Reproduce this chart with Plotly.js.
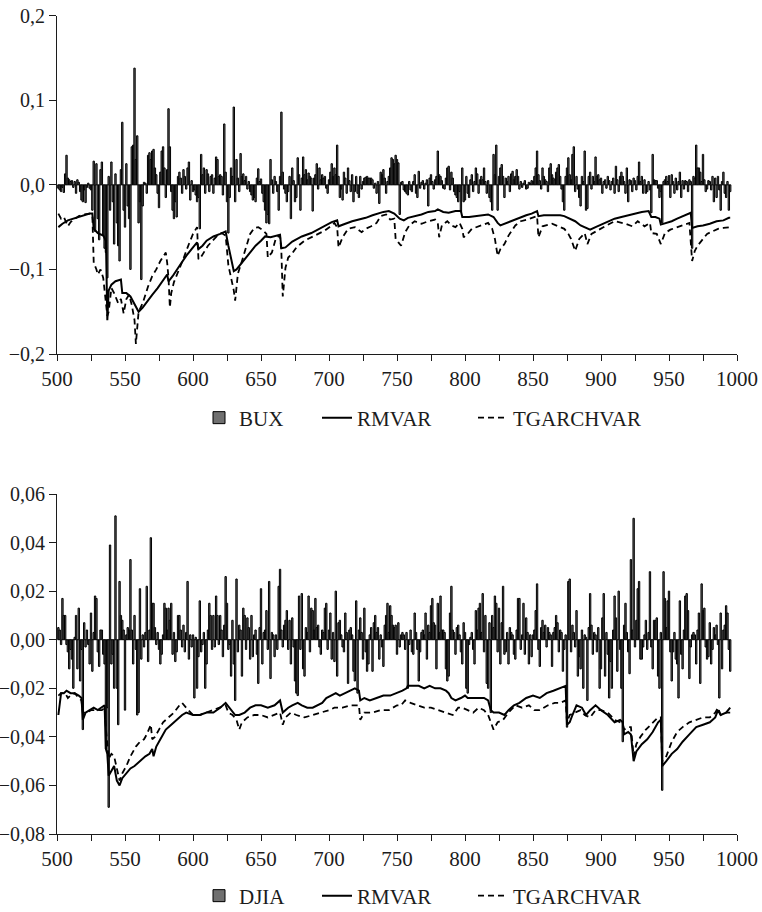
<!DOCTYPE html>
<html>
<head>
<meta charset="utf-8">
<script src="https://cdn.plot.ly/plotly-3.0.1.min.js"></script>
<style>html,body{margin:0;padding:0;background:#fff;}#chart{width:762px;height:912px;}</style>
</head>
<body>
<div id="chart"></div>
<script>
// ---------- DATA ----------
const firstDay = 501;
const xTickVals = [500,525,550,575,600,625,650,675,700,725,750,775,800,825,850,875,900,925,950,975,1000];
const xTickText = ['500','','550','','600','','650','','700','','750','','800','','850','','900','','950','','1000'];

// BUX daily returns, days 501..995
const buxReturns = [
 -0.004,-0.006,-0.008,-0.003,-0.009,0.013,0.035,0.008,0.006,0.004,
 0.005,-0.003,0.004,-0.010,0.006,0.003,-0.008,-0.018,-0.020,-0.006,
 -0.021,-0.003,0.002,-0.004,-0.006,-0.030,0.028,-0.055,0.025,-0.040,
 -0.065,0.018,0.027,-0.060,-0.075,-0.080,-0.110,0.010,-0.030,0.027,
 -0.020,-0.070,0.013,-0.045,-0.072,-0.090,0.018,0.074,-0.030,-0.050,
 0.025,-0.025,-0.040,-0.100,0.045,0.047,0.138,0.030,0.058,-0.045,
 -0.020,-0.112,-0.025,0.003,0.002,-0.010,0.035,0.038,0.030,0.040,
 0.042,0.020,0.012,-0.010,-0.027,0.015,0.040,0.045,0.020,-0.015,
 0.018,0.090,0.045,-0.008,-0.030,-0.040,-0.020,-0.038,0.010,0.015,
 0.008,-0.010,0.018,0.010,-0.005,0.020,0.027,-0.018,0.005,-0.008,
 -0.006,-0.012,-0.020,-0.015,-0.052,0.036,0.012,0.020,-0.010,0.018,
 0.013,-0.008,0.010,0.012,-0.010,0.008,0.033,0.030,0.010,0.012,
 0.010,-0.012,0.072,0.015,-0.020,-0.057,-0.015,0.020,0.010,0.092,
 -0.020,0.030,0.008,-0.008,0.037,0.010,0.013,0.005,0.010,-0.005,
 0.004,-0.008,-0.012,-0.018,-0.015,-0.020,0.008,0.019,0.004,0.007,
 -0.010,-0.020,-0.030,-0.045,-0.035,-0.046,0.030,0.006,-0.010,0.010,
 0.004,-0.008,-0.030,0.010,0.086,0.015,-0.005,-0.010,-0.020,-0.008,
 0.010,-0.040,0.020,0.005,-0.020,-0.015,0.032,0.012,-0.030,0.008,
 0.033,0.012,0.018,0.006,0.014,0.010,0.008,-0.031,0.008,0.012,
 0.025,-0.005,0.020,0.006,0.012,0.008,0.010,-0.004,-0.010,0.006,
 0.015,0.025,0.010,0.020,0.012,0.047,0.010,-0.015,-0.005,-0.018,
 0.015,0.008,-0.010,0.020,0.005,-0.008,0.012,-0.020,-0.008,0.010,
 -0.010,-0.015,0.010,-0.005,0.004,0.008,0.009,0.010,0.008,0.008,
 0.008,0.006,-0.004,0.002,-0.010,0.004,-0.022,0.015,0.012,0.018,
 0.008,-0.010,0.004,0.010,0.020,0.032,0.030,0.025,0.035,0.030,
 0.026,-0.035,0.003,0.004,-0.006,-0.008,-0.010,-0.012,0.004,-0.006,
 -0.008,0.004,0.012,-0.010,-0.015,0.016,-0.004,0.003,0.005,-0.005,
 0.002,0.006,-0.025,0.008,0.012,0.004,-0.005,0.006,0.010,0.040,
 0.012,0.010,0.005,-0.004,-0.005,0.008,0.020,0.022,-0.006,0.015,
 0.008,-0.008,-0.012,-0.015,-0.020,-0.008,-0.032,0.020,-0.020,-0.018,
 0.010,-0.010,-0.015,0.006,0.012,-0.008,0.004,0.020,0.013,-0.010,
 0.006,0.010,0.006,0.020,0.004,-0.010,0.005,-0.015,-0.020,-0.030,
 0.036,0.012,0.047,-0.030,0.010,0.020,0.024,0.010,-0.015,0.008,
 0.004,0.010,-0.008,0.013,0.016,0.006,0.010,0.018,0.010,-0.005,
 0.004,-0.003,0.002,0.005,-0.005,-0.004,0.003,0.002,0.005,0.004,
 0.010,0.020,0.040,0.012,0.005,-0.005,0.020,0.010,0.006,0.004,
 -0.008,0.020,0.025,0.012,0.008,0.006,0.015,0.020,0.024,0.010,
 -0.005,-0.020,-0.030,0.010,0.020,0.032,0.012,0.006,0.036,0.045,
 -0.008,0.010,-0.005,-0.015,-0.025,0.010,0.004,0.040,-0.030,-0.028,
 0.010,0.015,-0.005,0.010,0.004,0.033,0.010,0.012,0.006,0.008,
 -0.010,0.004,0.006,-0.004,0.010,0.005,-0.006,0.004,0.008,-0.010,
 0.022,0.006,-0.008,0.010,0.015,0.010,0.004,-0.010,0.020,-0.020,
 0.006,0.005,-0.008,0.008,0.005,-0.006,0.010,0.027,0.004,0.010,
 -0.010,0.006,-0.010,-0.008,0.004,-0.006,-0.033,0.036,0.006,0.005,
 0.005,-0.004,-0.015,-0.008,-0.045,0.004,0.006,0.010,0.004,0.011,
 -0.015,0.012,0.004,-0.010,0.008,-0.006,0.004,0.015,-0.015,0.005,
 -0.005,0.005,0.004,-0.008,0.006,0.004,-0.075,0.010,0.008,0.047,
 0.020,0.020,0.015,0.004,0.036,0.006,-0.008,-0.005,0.005,0.004,
 -0.006,0.010,-0.020,0.008,-0.015,0.010,-0.006,-0.030,0.004,0.015,
 -0.010,-0.015,0.004,-0.030,-0.008
];

// BUX RiskMetrics VaR (solid)
const buxRmDays = [501,504,508,512,516,520,524,526,527,530,534,536,537,538,540,543,546,547,548,551,554,557,560,563,566,570,574,578,581,582,585,590,595,600,603,604,607,610,615,620,624,626,627,630,632,635,638,642,646,650,653,657,660,664,665,668,673,680,687,695,702,706,707,712,717,722,727,732,736,740,744,748,752,755,758,763,768,773,778,780,784,788,793,797,798,803,808,813,817,821,824,826,829,833,837,841,845,849,853,854,858,864,870,873,877,881,885,889,892,896,900,905,910,915,920,925,930,935,937,940,943,944,948,952,956,960,963,966,967,971,975,980,985,990,994,995];
const buxRmVar = [-0.050,-0.046,-0.042,-0.040,-0.038,-0.036,-0.034,-0.034,-0.052,-0.057,-0.060,-0.066,-0.160,-0.125,-0.118,-0.114,-0.113,-0.112,-0.128,-0.128,-0.132,-0.142,-0.150,-0.145,-0.138,-0.130,-0.122,-0.112,-0.106,-0.114,-0.108,-0.096,-0.084,-0.074,-0.068,-0.076,-0.072,-0.066,-0.061,-0.058,-0.055,-0.072,-0.080,-0.102,-0.100,-0.094,-0.088,-0.080,-0.072,-0.066,-0.061,-0.062,-0.061,-0.059,-0.075,-0.074,-0.067,-0.061,-0.057,-0.050,-0.044,-0.042,-0.049,-0.046,-0.043,-0.041,-0.039,-0.036,-0.034,-0.032,-0.031,-0.034,-0.040,-0.042,-0.039,-0.037,-0.035,-0.032,-0.031,-0.029,-0.032,-0.033,-0.031,-0.031,-0.038,-0.038,-0.037,-0.036,-0.035,-0.038,-0.045,-0.048,-0.046,-0.044,-0.041,-0.038,-0.036,-0.034,-0.031,-0.037,-0.036,-0.036,-0.036,-0.037,-0.040,-0.043,-0.048,-0.051,-0.053,-0.050,-0.047,-0.043,-0.040,-0.038,-0.036,-0.034,-0.032,-0.031,-0.038,-0.038,-0.040,-0.047,-0.045,-0.043,-0.040,-0.037,-0.035,-0.033,-0.051,-0.049,-0.048,-0.046,-0.043,-0.042,-0.039,-0.039];

// BUX TGARCH VaR (dashed)
const buxTgDays = [501,503,505,508,510,513,516,520,524,526,527,529,530,532,534,536,537,538,540,542,545,547,549,551,553,555,557,558,559,560,563,565,567,570,573,576,578,580,581,582,583,584,586,590,593,597,600,603,604,606,608,611,615,618,621,624,626,628,630,631,633,636,639,642,645,648,651,654,655,658,661,664,665,666,668,670,673,676,682,690,697,702,704,706,707,710,714,719,724,727,731,735,738,742,745,748,749,751,753,756,759,763,768,773,778,780,781,783,787,790,793,796,798,799,802,805,812,817,820,822,824,826,829,832,837,841,846,850,853,854,857,864,868,873,876,878,881,884,888,890,893,898,903,910,918,923,927,932,936,937,941,944,947,951,956,961,965,967,969,971,974,978,982,986,990,995];
const buxTgVar = [-0.034,-0.040,-0.038,-0.049,-0.044,-0.040,-0.037,-0.035,-0.034,-0.036,-0.092,-0.100,-0.106,-0.100,-0.110,-0.140,-0.155,-0.150,-0.122,-0.128,-0.140,-0.135,-0.152,-0.135,-0.130,-0.142,-0.160,-0.188,-0.165,-0.150,-0.140,-0.130,-0.120,-0.108,-0.100,-0.090,-0.085,-0.080,-0.092,-0.110,-0.145,-0.128,-0.115,-0.100,-0.087,-0.070,-0.058,-0.050,-0.088,-0.085,-0.080,-0.072,-0.065,-0.060,-0.057,-0.060,-0.095,-0.110,-0.125,-0.137,-0.105,-0.090,-0.075,-0.058,-0.051,-0.050,-0.053,-0.058,-0.086,-0.080,-0.063,-0.060,-0.080,-0.132,-0.098,-0.086,-0.081,-0.074,-0.066,-0.060,-0.054,-0.048,-0.045,-0.050,-0.074,-0.062,-0.052,-0.050,-0.056,-0.052,-0.049,-0.045,-0.037,-0.035,-0.041,-0.040,-0.064,-0.068,-0.072,-0.056,-0.048,-0.043,-0.046,-0.043,-0.041,-0.045,-0.062,-0.048,-0.043,-0.048,-0.050,-0.045,-0.052,-0.062,-0.058,-0.052,-0.048,-0.045,-0.052,-0.064,-0.084,-0.076,-0.070,-0.060,-0.048,-0.043,-0.041,-0.039,-0.037,-0.062,-0.049,-0.046,-0.049,-0.052,-0.058,-0.064,-0.078,-0.064,-0.057,-0.070,-0.058,-0.053,-0.049,-0.043,-0.046,-0.049,-0.043,-0.049,-0.045,-0.057,-0.058,-0.070,-0.057,-0.053,-0.050,-0.047,-0.045,-0.090,-0.078,-0.072,-0.066,-0.058,-0.055,-0.052,-0.051,-0.050];

// DJIA daily returns, days 501..995
const djiaReturns = [
 0.005,0.004,-0.002,0.017,0.010,0.010,-0.002,-0.005,-0.012,-0.004,
 -0.008,-0.020,0.001,0.010,-0.012,0.013,-0.017,-0.004,-0.037,0.007,
 -0.003,0.004,-0.002,-0.010,0.011,-0.013,0.003,0.018,0.017,-0.005,
 -0.011,0.004,0.004,-0.006,-0.010,-0.045,-0.028,-0.069,0.039,-0.010,
 -0.006,-0.020,0.051,-0.020,-0.035,0.024,0.010,0.008,0.004,-0.029,
 0.002,0.005,0.004,0.033,0.004,-0.010,0.010,-0.004,-0.031,-0.030,
 0.021,-0.008,0.002,-0.003,0.003,0.022,-0.009,0.004,0.042,0.015,
 0.015,0.005,-0.002,0.003,-0.004,-0.010,-0.006,0.002,0.015,0.013,
 0.004,0.013,0.008,0.015,-0.006,0.003,-0.009,-0.005,0.010,0.010,
 0.004,-0.003,0.006,-0.005,0.003,0.024,-0.008,0.002,-0.003,0.002,
 -0.024,0.001,-0.020,-0.007,0.016,-0.005,-0.002,0.003,-0.020,-0.010,
 0.004,0.015,0.010,-0.004,0.010,-0.003,0.018,0.010,-0.002,0.010,
 0.004,-0.007,0.006,0.026,0.015,-0.004,-0.002,-0.015,0.008,-0.010,
 -0.025,0.025,-0.005,0.006,0.004,-0.015,0.013,0.010,-0.004,0.009,
 0.005,-0.008,0.010,-0.007,0.002,0.004,-0.006,-0.018,0.005,0.021,
 -0.010,0.003,0.004,0.012,-0.004,0.024,-0.016,0.003,0.002,-0.007,
 0.002,-0.004,0.022,0.029,0.004,-0.003,0.006,0.008,0.012,-0.004,
 0.008,-0.010,0.009,-0.003,-0.017,-0.022,-0.023,0.018,-0.004,0.019,
 -0.012,-0.015,0.005,0.003,0.018,-0.005,0.013,0.012,0.004,0.017,
 0.005,0.006,-0.003,-0.006,0.004,0.003,0.013,0.015,-0.004,0.004,
 0.011,-0.008,0.003,-0.009,0.020,-0.015,0.007,0.008,0.002,-0.003,
 -0.005,0.011,0.003,-0.018,0.004,0.005,0.002,-0.013,-0.017,0.016,
 -0.022,0.004,0.009,0.003,-0.008,0.013,-0.005,-0.013,-0.010,0.002,
 0.005,-0.013,0.007,0.010,0.003,0.005,-0.008,0.002,-0.003,-0.011,
 0.006,0.010,0.015,0.003,0.014,0.010,0.006,0.005,0.006,-0.006,
 0.007,-0.003,0.002,0.003,0.002,-0.004,0.003,-0.020,-0.002,0.004,
 -0.005,-0.006,0.011,0.003,-0.004,-0.017,-0.005,0.003,0.004,0.002,
 0.011,-0.008,0.006,0.003,0.014,0.017,0.007,0.006,-0.012,0.015,
 0.003,0.018,0.004,0.004,0.003,-0.012,-0.017,-0.015,0.011,0.022,
 0.004,0.003,-0.006,0.005,0.006,0.002,-0.005,-0.010,0.007,0.003,
 -0.020,-0.022,-0.002,0.001,0.003,-0.004,-0.010,0.012,0.004,0.013,
 0.015,0.003,0.019,-0.005,0.010,-0.018,-0.020,0.007,-0.030,0.010,
 0.005,0.018,0.015,-0.005,0.013,-0.010,0.007,0.022,-0.006,-0.005,
 0.003,-0.010,0.005,0.003,0.002,-0.006,-0.008,0.004,0.017,0.017,
 -0.004,0.002,0.015,-0.006,0.009,0.003,-0.010,0.002,-0.007,0.002,
 0.004,0.012,0.023,-0.004,-0.011,0.005,0.008,0.003,0.006,-0.003,
 0.005,0.003,0.002,-0.011,0.003,0.005,0.010,0.007,-0.005,0.004,
 0.003,-0.013,-0.004,0.002,-0.036,0.024,0.025,-0.005,0.006,0.003,
 -0.003,0.012,-0.015,-0.007,-0.012,0.004,-0.020,0.002,0.001,-0.025,
 0.005,0.019,0.006,-0.006,0.003,0.002,-0.005,0.005,-0.020,-0.012,
 0.009,0.019,-0.015,0.003,-0.006,-0.024,-0.009,-0.020,0.004,0.018,
 0.009,-0.013,0.020,-0.004,-0.020,-0.042,0.006,0.015,0.003,-0.005,
 -0.014,0.033,0.004,0.050,-0.003,0.008,0.021,0.024,-0.008,-0.008,
 -0.003,0.002,0.008,-0.004,0.003,0.028,-0.003,-0.012,0.008,0.008,
 0.009,-0.015,-0.020,0.003,-0.062,0.028,0.017,0.005,0.016,0.020,
 -0.005,-0.017,-0.005,0.003,-0.008,-0.010,-0.024,0.016,-0.006,-0.012,
 0.004,0.018,0.019,0.012,-0.016,-0.003,0.002,0.003,0.002,-0.010,
 0.004,0.011,-0.018,0.023,0.012,0.013,-0.003,-0.008,-0.007,0.007,
 -0.010,-0.004,0.005,0.002,0.006,-0.002,-0.024,0.011,-0.012,0.004,
 0.006,0.014,0.011,-0.004,-0.013
];

// DJIA RiskMetrics VaR (solid)
const djiaRmDays = [501,502,503,505,507,510,513,516,518,519,521,524,527,530,533,535,536,537,538,540,542,544,546,548,551,554,557,561,565,568,570,571,573,576,580,584,588,592,595,600,605,610,615,620,624,627,631,634,638,642,646,650,655,660,664,666,670,673,677,680,684,688,692,695,698,702,705,708,712,716,719,722,723,726,730,735,740,745,750,754,757,758,762,766,770,774,778,782,786,788,790,793,797,800,802,806,810,814,817,819,821,825,829,832,836,840,845,850,855,860,865,870,874,875,877,879,882,886,889,892,896,900,905,910,914,916,917,920,922,924,926,930,934,938,942,944,945,948,952,956,960,965,970,975,980,984,986,988,992,995];
const djiaRmVar = [-0.031,-0.025,-0.022,-0.022,-0.021,-0.022,-0.022,-0.023,-0.024,-0.033,-0.030,-0.029,-0.028,-0.029,-0.028,-0.027,-0.045,-0.047,-0.056,-0.054,-0.052,-0.058,-0.060,-0.057,-0.055,-0.053,-0.052,-0.050,-0.048,-0.047,-0.045,-0.048,-0.044,-0.041,-0.037,-0.035,-0.033,-0.031,-0.030,-0.031,-0.031,-0.030,-0.030,-0.028,-0.026,-0.028,-0.031,-0.031,-0.030,-0.028,-0.027,-0.027,-0.028,-0.027,-0.025,-0.030,-0.028,-0.027,-0.026,-0.027,-0.028,-0.028,-0.027,-0.026,-0.024,-0.023,-0.022,-0.023,-0.022,-0.021,-0.020,-0.021,-0.025,-0.024,-0.025,-0.024,-0.023,-0.023,-0.022,-0.021,-0.020,-0.019,-0.019,-0.019,-0.020,-0.019,-0.020,-0.020,-0.021,-0.022,-0.024,-0.025,-0.024,-0.023,-0.024,-0.024,-0.024,-0.024,-0.025,-0.029,-0.030,-0.030,-0.031,-0.029,-0.027,-0.026,-0.024,-0.023,-0.024,-0.022,-0.021,-0.020,-0.019,-0.035,-0.034,-0.031,-0.027,-0.028,-0.031,-0.029,-0.027,-0.029,-0.031,-0.034,-0.033,-0.034,-0.039,-0.038,-0.039,-0.050,-0.046,-0.043,-0.041,-0.038,-0.034,-0.033,-0.052,-0.050,-0.047,-0.045,-0.042,-0.039,-0.036,-0.035,-0.034,-0.032,-0.029,-0.031,-0.030,-0.028];

// DJIA TGARCH VaR (dashed)
const djiaTgDays = [501,503,506,508,510,513,516,518,519,522,525,529,533,535,536,538,540,542,544,546,548,551,554,556,558,561,564,566,569,570,572,575,578,582,586,590,592,595,600,605,610,615,620,624,626,629,632,634,636,640,645,650,655,660,664,666,668,672,676,682,688,695,700,704,710,716,722,723,726,732,738,744,750,753,756,760,765,770,775,780,786,791,795,798,802,806,810,814,817,819,821,824,828,832,837,842,847,851,855,861,866,870,874,875,877,881,885,888,892,896,900,905,910,914,916,917,920,922,924,926,929,933,938,942,944,945,948,952,956,960,965,970,975,980,984,986,988,992,995];
const djiaTgVar = [-0.023,-0.022,-0.022,-0.024,-0.023,-0.022,-0.024,-0.025,-0.030,-0.030,-0.029,-0.029,-0.029,-0.028,-0.037,-0.049,-0.047,-0.048,-0.053,-0.058,-0.055,-0.052,-0.048,-0.046,-0.044,-0.042,-0.041,-0.039,-0.035,-0.041,-0.040,-0.037,-0.034,-0.032,-0.030,-0.027,-0.026,-0.028,-0.031,-0.031,-0.030,-0.029,-0.028,-0.027,-0.030,-0.031,-0.033,-0.037,-0.034,-0.032,-0.031,-0.031,-0.032,-0.031,-0.030,-0.035,-0.032,-0.030,-0.031,-0.032,-0.031,-0.030,-0.029,-0.028,-0.028,-0.027,-0.027,-0.033,-0.030,-0.030,-0.029,-0.029,-0.027,-0.027,-0.025,-0.026,-0.027,-0.028,-0.028,-0.029,-0.030,-0.031,-0.028,-0.028,-0.029,-0.030,-0.028,-0.029,-0.031,-0.034,-0.037,-0.034,-0.033,-0.030,-0.027,-0.028,-0.027,-0.029,-0.029,-0.027,-0.026,-0.026,-0.025,-0.034,-0.031,-0.030,-0.029,-0.031,-0.032,-0.029,-0.029,-0.030,-0.033,-0.034,-0.035,-0.037,-0.036,-0.036,-0.048,-0.043,-0.040,-0.037,-0.034,-0.032,-0.032,-0.050,-0.048,-0.042,-0.038,-0.036,-0.034,-0.033,-0.032,-0.032,-0.030,-0.028,-0.031,-0.030,-0.030];

// ---------- CHART ----------
const days = buxReturns.map((_, i) => firstDay + i);
const FONT = 'Liberation Serif, Times New Roman, DejaVu Serif, serif';
const INK = '#1c1c1c';

function barTrace(y, name, xa, ya, lg) {
  return {type:'bar', x: days.slice(0, y.length), y: y, name: name, xaxis: xa, yaxis: ya, legend: lg,
    marker:{color:'#707070', line:{color:'#000', width:1}}, width:1, hoverinfo:'x+y'};
}
function lineTrace(x, y, name, dash, w, xa, ya, lg) {
  return {type:'scatter', mode:'lines', x: x, y: y, name: name, xaxis: xa, yaxis: ya, legend: lg,
    line:{color:'#000', width:w, dash:dash}};
}

const traces = [
  barTrace(buxReturns, 'BUX', 'x', 'y', 'legend'),
  lineTrace(buxRmDays, buxRmVar, 'RMVAR', 'solid', 2, 'x', 'y', 'legend2'),
  lineTrace(buxTgDays, buxTgVar, 'TGARCHVAR', '6px,4px', 1.8, 'x', 'y', 'legend3'),
  barTrace(djiaReturns, 'DJIA', 'x2', 'y2', 'legend4'),
  lineTrace(djiaRmDays, djiaRmVar, 'RMVAR', 'solid', 2, 'x2', 'y2', 'legend5'),
  lineTrace(djiaTgDays, djiaTgVar, 'TGARCHVAR', '6px,4px', 1.8, 'x2', 'y2', 'legend6')
];

const W = 762, H = 912, T = 15, B = 78, PH = H - T - B;
const py = p => 1 - (p - T) / PH;     // pixel -> paper y

const xBase = {range:[500,1000], tickmode:'array', tickvals:xTickVals, ticktext:xTickText,
  ticks:'outside', ticklen:6, tickwidth:1, tickcolor:INK, showline:true, linecolor:INK, linewidth:1,
  showgrid:false, zeroline:false, fixedrange:true, automargin:false, tickfont:{family:FONT, size:21, color:INK}};
const xOver = {range:[500,1000], tickmode:'array', tickvals:xTickVals, ticks:'inside', ticklen:6,
  tickwidth:1, tickcolor:INK, showticklabels:false, showline:false, showgrid:false, zeroline:false, fixedrange:true};
const yCommon = {ticks:'outside', ticklen:7, tickwidth:1, tickcolor:INK, showline:true, linecolor:INK, linewidth:1,
  showgrid:false, zeroline:false, fixedrange:true, automargin:false, tickfont:{family:FONT, size:20, color:INK}};
const yOverCommon = {ticks:'inside', ticklen:5, tickwidth:1, tickcolor:INK, showticklabels:false,
  showline:false, showgrid:false, zeroline:false, fixedrange:true};

const topDom = [py(354), py(15.7)];
const botDom = [0, py(494)];

function lg(xp, yp) {
  return {xref:'container', yref:'container', x: xp / W, y: 1 - yp / H, xanchor:'left', yanchor:'middle',
    orientation:'h', bgcolor:'rgba(0,0,0,0)', borderwidth:0, font:{family:FONT, size:21, color:INK}, itemwidth:30};
}

const layout = {
  width:W, height:H,
  margin:{l:57, r:25, t:T, b:B, autoexpand:false},
  paper_bgcolor:'#fff', plot_bgcolor:'#fff',
  font:{family:FONT, size:21, color:INK},
  separators:',.',
  barmode:'overlay', bargap:0,
  showlegend:true,
  xaxis: Object.assign({}, xBase, {anchor:'y', domain:[0,1]}),
  yaxis: Object.assign({}, yCommon, {anchor:'x', domain:topDom, range:[-0.2,0.2], dtick:0.1, tick0:0, tickformat:'.1f'}),
  xaxis2: Object.assign({}, xBase, {anchor:'y2', domain:[0,1]}),
  yaxis2: Object.assign({}, yCommon, {anchor:'x2', domain:botDom, range:[-0.08,0.06], dtick:0.02, tick0:0, tickformat:'.2f'}),
  xaxis3: Object.assign({}, xOver, {overlaying:'x', anchor:'y'}),
  yaxis3: Object.assign({}, yOverCommon, {overlaying:'y', anchor:'x', range:[-0.2,0.2], dtick:0.1, tick0:0}),
  xaxis4: Object.assign({}, xOver, {overlaying:'x2', anchor:'y2'}),
  yaxis4: Object.assign({}, yOverCommon, {overlaying:'y2', anchor:'x2', range:[-0.08,0.06], dtick:0.02, tick0:0}),
  legend:  lg(199, 418),
  legend2: lg(317, 418),
  legend3: lg(473, 418),
  legend4: lg(199, 896),
  legend5: lg(317, 896),
  legend6: lg(473, 896)
};

Plotly.newPlot('chart', traces, layout, {displayModeBar:false, staticPlot:true});
</script>
</body>
</html>
